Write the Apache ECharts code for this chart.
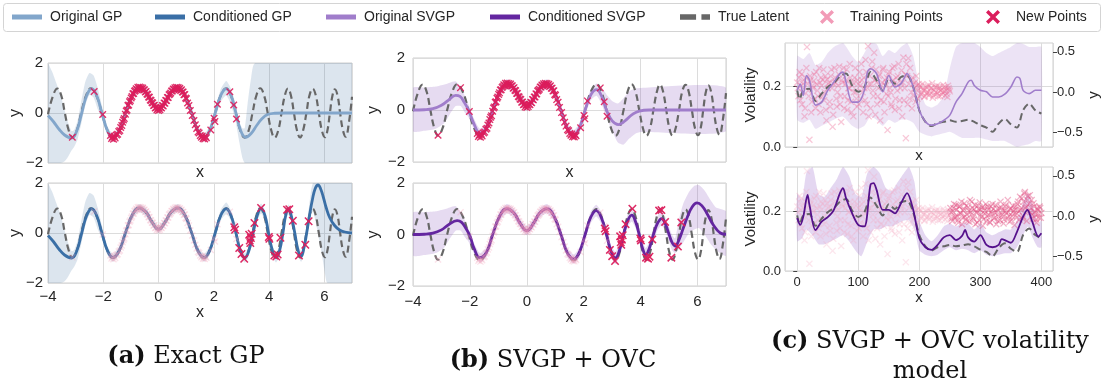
<!DOCTYPE html>
<html><head><meta charset="utf-8">
<script src="https://cdn.jsdelivr.net/npm/echarts/dist/echarts.min.js"></script>
<style>html,body{margin:0;padding:0;background:#fff}#c{width:1104px;height:383px}</style>
</head><body><div id="c"></div>
<script>
// ---------------- DATA ----------------
const xTicksAB = [-4, -2, 0, 2, 4, 6];
const yTicksAB = [-2, 0, 2];
const xTicksC = [0, 100, 200, 300, 400];
const volTicks = [0, 0.2];
const retTicks = [-0.5, 0, 0.5];

const latent = [[-4.0,-0.05],[-3.83,0.65],[-3.66,0.98],[-3.52,0.7],[-3.39,0.0],[-3.25,-0.7],[-3.12,-0.98],[-2.96,-0.7],[-2.8,0.0],[-2.62,0.7],[-2.45,0.99],[-2.25,0.7],[-2.05,0.0],[-1.85,-0.7],[-1.65,-1.0],[-1.42,-0.7],[-1.2,0.0],[-0.95,0.72],[-0.7,1.0],[-0.45,0.83],[-0.25,0.46],[0,0.15],[0.25,0.46],[0.45,0.83],[0.7,1.0],[0.95,0.72],[1.2,0.0],[1.42,-0.7],[1.65,-1.0],[1.85,-0.7],[2.05,0.0],[2.25,0.7],[2.45,0.99],[2.62,0.7],[2.8,0.0],[2.96,-0.7],[3.12,-0.99],[3.26,-0.7],[3.4,0.0],[3.54,0.7],[3.68,0.99],[3.82,0.7],[3.95,0.0],[4.08,-0.7],[4.2,-0.99],[4.33,-0.7],[4.45,0.0],[4.57,0.7],[4.68,0.98],[4.79,0.7],[4.9,0.0],[5.01,-0.7],[5.12,-0.98],[5.23,-0.7],[5.35,0.0],[5.46,0.7],[5.58,0.97],[5.69,0.7],[5.8,0.0],[5.91,-0.7],[6.02,-0.97],[6.11,-0.7],[6.2,0.0],[6.29,0.68],[6.38,0.95],[6.48,0.68],[6.57,0.0],[6.67,-0.68],[6.77,-0.95],[6.88,-0.45],[7.0,0.65]];

const origGPMean = [[-4.0,-0.1],[-3.8,-0.35],[-3.6,-0.65],[-3.4,-0.88],[-3.15,-1.0],[-2.96,-0.72],[-2.78,0.0],[-2.6,0.7],[-2.42,0.97],[-2.24,0.7],[-2.05,0.0],[-1.85,-0.7],[-1.65,-0.98],[-1.42,-0.7],[-1.2,0.0],[-0.95,0.72],[-0.7,1.0],[-0.45,0.83],[-0.25,0.46],[0,0.15],[0.25,0.46],[0.45,0.83],[0.7,1.0],[0.95,0.72],[1.2,0.0],[1.42,-0.7],[1.65,-0.98],[1.85,-0.7],[2.05,0.0],[2.25,0.7],[2.45,0.97],[2.63,0.68],[2.8,0.0],[2.97,-0.7],[3.15,-0.97],[3.35,-0.82],[3.55,-0.5],[3.75,-0.22],[3.95,-0.06],[4.2,-0.01],[4.6,0.0],[5.5,0.0],[7.0,0.0]];

const condGPMean = [[-4.0,-0.1],[-3.8,-0.35],[-3.6,-0.65],[-3.4,-0.88],[-3.15,-1.0],[-2.96,-0.72],[-2.78,0.0],[-2.6,0.7],[-2.42,0.97],[-2.24,0.7],[-2.05,0.0],[-1.85,-0.7],[-1.65,-0.98],[-1.42,-0.7],[-1.2,0.0],[-0.95,0.72],[-0.7,1.0],[-0.45,0.83],[-0.25,0.46],[0,0.15],[0.25,0.46],[0.45,0.83],[0.7,1.0],[0.95,0.72],[1.2,0.0],[1.42,-0.7],[1.65,-0.98],[1.85,-0.7],[2.05,0.0],[2.25,0.7],[2.45,0.97],[2.62,0.7],[2.8,0.0],[2.96,-0.7],[3.12,-1.0],[3.27,-0.7],[3.42,0.0],[3.57,0.7],[3.71,0.98],[3.85,0.7],[3.98,0.0],[4.12,-0.7],[4.25,-0.98],[4.38,-0.7],[4.5,0.0],[4.6,0.7],[4.7,0.94],[4.8,0.7],[4.93,0.0],[5.05,-0.7],[5.16,-0.93],[5.26,-0.6],[5.36,0.0],[5.47,0.75],[5.57,1.35],[5.67,1.78],[5.77,1.92],[5.87,1.75],[5.97,1.4],[6.07,1.0],[6.2,0.6],[6.37,0.3],[6.55,0.12],[6.74,0.04],[7.0,0.0]];

const origSVGPMean = [[-4.0,0.0],[-3.6,0.01],[-3.3,0.05],[-3.0,0.18],[-2.75,0.38],[-2.5,0.56],[-2.35,0.52],[-2.2,0.3],[-2.05,0.0],[-1.85,-0.55],[-1.65,-0.88],[-1.42,-0.68],[-1.2,0.0],[-0.95,0.72],[-0.7,1.0],[-0.45,0.83],[-0.25,0.46],[0,0.15],[0.25,0.46],[0.45,0.83],[0.7,1.0],[0.95,0.72],[1.2,0.0],[1.42,-0.7],[1.65,-0.95],[1.85,-0.68],[2.05,0.0],[2.25,0.58],[2.45,0.78],[2.62,0.55],[2.8,0.0],[3.0,-0.42],[3.22,-0.56],[3.45,-0.42],[3.7,-0.18],[3.95,-0.04],[4.3,0.0],[7.0,0.0]];

const condSVGPMean = [[-4.0,0.0],[-3.6,0.01],[-3.3,0.05],[-3.0,0.18],[-2.75,0.38],[-2.45,0.54],[-2.3,0.48],[-2.15,0.25],[-2.0,-0.05],[-1.85,-0.55],[-1.65,-0.9],[-1.42,-0.7],[-1.2,0.0],[-0.95,0.72],[-0.7,1.0],[-0.45,0.83],[-0.25,0.46],[0,0.15],[0.25,0.46],[0.45,0.83],[0.7,1.0],[0.95,0.72],[1.2,0.0],[1.42,-0.7],[1.65,-0.95],[1.85,-0.68],[2.05,0.0],[2.25,0.68],[2.44,0.93],[2.62,0.65],[2.8,0.0],[2.96,-0.65],[3.11,-0.91],[3.26,-0.6],[3.4,0.0],[3.55,0.55],[3.69,0.75],[3.82,0.5],[3.95,0.0],[4.07,-0.55],[4.18,-0.78],[4.3,-0.55],[4.45,0.0],[4.6,0.45],[4.74,0.62],[4.87,0.4],[5.0,0.0],[5.1,-0.3],[5.21,-0.45],[5.35,-0.2],[5.5,0.25],[5.65,0.7],[5.8,1.05],[5.98,1.23],[6.15,1.12],[6.35,0.78],[6.55,0.38],[6.8,0.06],[7.0,0.01]];

// bands: [x, lower, upper]
const bandGPLeft = [[-4.0,-2,2],[-3.85,-2,1.65],[-3.7,-2,1.2],[-3.55,-2,0.75],[-3.42,-1.95,0.2],[-3.3,-1.8,-0.3],[-3.15,-1.5,-0.72],[-3.05,-1.35,-0.68],[-2.93,-1.05,-0.3],[-2.8,-0.45,0.45],[-2.65,0.3,1.25],[-2.5,0.72,1.6],[-2.35,0.62,1.5],[-2.2,0.15,1.0],[-2.05,-0.22,0.3]];
const bandGPMid = [[-1.85,-0.87,-0.53],[-1.65,-1.15,-0.83],[-1.42,-0.86,-0.54],[-1.2,-0.16,0.16],[-0.95,0.56,0.88],[-0.7,0.84,1.16],[-0.45,0.66,0.98],[-0.25,0.3,0.6],[0,0.0,0.3],[0.25,0.3,0.6],[0.45,0.66,0.98],[0.7,0.84,1.16],[0.95,0.56,0.88],[1.2,-0.16,0.16],[1.42,-0.86,-0.54],[1.65,-1.15,-0.83],[1.85,-0.87,-0.53],[2.05,-0.2,0.2]];
const bandOrigGPRight = [[2.25,0.45,0.95],[2.45,0.7,1.28],[2.63,0.3,0.95],[2.8,-0.4,0.3],[2.92,-1.15,-0.35],[3.04,-1.82,-0.62],[3.12,-2,-0.6],[3.22,-2,0.35],[3.35,-2,1.4],[3.5,-2,2],[7.0,-2,2]];
const bandCondGPRight = [[2.25,0.5,0.92],[2.45,0.75,1.22],[2.62,0.5,0.9],[2.8,-0.2,0.2],[2.96,-0.9,-0.5],[3.12,-1.18,-0.82],[3.27,-0.9,-0.5],[3.42,-0.2,0.2],[3.57,0.5,0.9],[3.71,0.78,1.18],[3.85,0.5,0.9],[3.98,-0.2,0.2],[4.12,-0.9,-0.5],[4.25,-1.18,-0.8],[4.38,-0.9,-0.5],[4.5,-0.2,0.2],[4.6,0.5,0.9],[4.7,0.74,1.14],[4.8,0.5,0.9],[4.93,-0.2,0.2],[5.05,-0.9,-0.5],[5.16,-1.15,-0.72],[5.26,-0.85,-0.3],[5.36,-0.25,0.35],[5.45,0.35,1.1],[5.52,0.75,1.7],[5.59,0.87,2],[5.75,0.1,2],[5.9,-0.8,2],[6.07,-1.93,2],[6.12,-2,2],[7.0,-2,2]];

const bandSVLeft = [[-4.0,-0.82,0.85],[-3.6,-0.8,0.86],[-3.2,-0.72,0.9],[-2.9,-0.5,0.98],[-2.7,-0.15,1.05],[-2.5,0.15,1.1],[-2.32,0.15,0.88],[-2.18,-0.1,0.55],[-2.05,-0.28,0.22]];
const bandSVMid = [[-1.85,-0.75,-0.35],[-1.65,-1.08,-0.72],[-1.42,-0.88,-0.5],[-1.2,-0.18,0.18],[-0.95,0.54,0.9],[-0.7,0.82,1.18],[-0.45,0.64,1.0],[-0.25,0.27,0.63],[0,-0.03,0.33],[0.25,0.27,0.63],[0.45,0.64,1.0],[0.7,0.82,1.18],[0.95,0.54,0.9],[1.2,-0.18,0.18],[1.42,-0.88,-0.5],[1.65,-1.13,-0.77],[1.85,-0.88,-0.5],[2.05,-0.2,0.2]];
const bandOrigSVRight = [[2.25,0.38,0.8],[2.45,0.55,1.02],[2.62,0.25,0.88],[2.8,-0.3,0.6],[3.0,-0.8,0.35],[3.2,-1.25,0.25],[3.4,-1.33,0.45],[3.6,-1.1,0.72],[3.8,-0.92,0.83],[4.0,-0.85,0.85],[7.0,-0.82,0.86]];
const bandCondSVRight = [[2.25,0.45,0.9],[2.44,0.7,1.16],[2.62,0.42,0.88],[2.8,-0.22,0.22],[2.96,-0.88,-0.42],[3.11,-1.15,-0.67],[3.26,-0.84,-0.36],[3.4,-0.24,0.24],[3.55,0.3,0.8],[3.69,0.5,1.0],[3.82,0.26,0.74],[3.95,-0.25,0.25],[4.07,-0.8,-0.3],[4.18,-1.04,-0.52],[4.3,-0.8,-0.3],[4.45,-0.26,0.26],[4.6,0.18,0.72],[4.74,0.35,0.9],[4.87,0.13,0.67],[5.0,-0.28,0.28],[5.1,-0.6,0.0],[5.21,-0.72,-0.15],[5.35,-0.55,0.6],[5.5,-0.3,1.2],[5.7,0.05,1.65],[5.9,0.2,1.9],[6.05,0.25,1.92],[6.25,0.0,1.7],[6.45,-0.35,1.35],[6.65,-0.6,1.05],[7.0,-0.82,0.9]];

const trainPts = [[-3.12,-0.97],[-2.33,0.86],[-2.02,-0.06],[-1.74,-0.9],[-1.7,-1.02],[-1.67,-0.95],[-1.63,-1.05],[-1.6,-0.93],[-1.57,-1.0],[-1.52,-0.88],[-1.48,-0.85],[-1.44,-0.74],[-1.4,-0.7],[-1.37,-0.58],[-1.33,-0.5],[-1.3,-0.37],[-1.27,-0.28],[-1.24,-0.22],[-1.2,-0.05],[-1.17,0.08],[-1.14,0.12],[-1.11,0.3],[-1.08,0.32],[-1.05,0.45],[-1.02,0.5],[-0.99,0.6],[-0.96,0.66],[-0.93,0.77],[-0.9,0.78],[-0.87,0.87],[-0.84,0.9],[-0.81,0.97],[-0.78,0.93],[-0.75,1.03],[-0.72,0.97],[-0.69,1.04],[-0.66,0.96],[-0.63,1.02],[-0.6,0.95],[-0.57,1.0],[-0.54,0.92],[-0.51,0.93],[-0.48,0.84],[-0.45,0.86],[-0.42,0.76],[-0.39,0.74],[-0.36,0.64],[-0.33,0.63],[-0.3,0.52],[-0.27,0.5],[-0.24,0.42],[-0.21,0.4],[-0.18,0.3],[-0.15,0.31],[-0.12,0.2],[-0.09,0.22],[-0.06,0.12],[-0.03,0.19],[0.0,0.1],[0.02,0.2],[0.05,0.13],[0.08,0.22],[0.11,0.2],[0.14,0.3],[0.17,0.28],[0.2,0.4],[0.23,0.39],[0.26,0.5],[0.29,0.5],[0.32,0.62],[0.35,0.62],[0.38,0.73],[0.41,0.76],[0.44,0.8],[0.47,0.88],[0.5,0.88],[0.53,0.96],[0.56,0.93],[0.59,1.01],[0.62,0.95],[0.65,1.03],[0.68,0.97],[0.71,1.02],[0.74,0.95],[0.77,0.99],[0.8,0.9],[0.83,0.93],[0.86,0.84],[0.89,0.84],[0.92,0.73],[0.95,0.74],[0.98,0.6],[1.01,0.57],[1.05,0.4],[1.1,0.3],[1.15,0.1],[1.22,-0.1],[1.28,-0.3],[1.33,-0.47],[1.38,-0.62],[1.43,-0.76],[1.47,-0.8],[1.51,-0.9],[1.55,-0.97],[1.58,-0.92],[1.61,-1.03],[1.64,-0.97],[1.67,-1.04],[1.7,-0.94],[1.73,-0.99],[1.89,-0.68],[2.01,-0.21],[2.04,-0.34],[2.13,0.35],[2.58,0.85],[2.72,0.32],[2.82,-0.24]];

const newPts = [[2.74,0.23],[2.77,0.13],[2.92,-0.6],[3.0,-0.84],[3.1,-1.03],[3.28,-0.07],[3.34,-0.2],[3.32,-0.4],[3.37,-0.03],[3.3,-0.3],[3.47,0.4],[3.71,1.0],[3.99,-0.16],[4.01,-0.23],[4.19,-0.9],[4.26,-0.94],[4.31,-0.86],[4.41,-0.19],[4.65,0.93],[4.73,0.95],[4.86,0.49],[5.08,-0.9],[5.31,-0.47],[5.43,0.47]];

// panel (c): volatility curves [t, volatility]
const cLatent = [[0,0.187],[4,0.158],[10,0.187],[20,0.192],[30,0.152],[40,0.176],[50,0.198],[60,0.211],[70,0.233],[80,0.242],[90,0.203],[100,0.182],[110,0.198],[120,0.247],[130,0.22],[140,0.187],[150,0.225],[160,0.209],[170,0.231],[180,0.236],[190,0.198],[200,0.121],[210,0.083],[220,0.069],[230,0.08],[240,0.083],[250,0.088],[260,0.083],[270,0.086],[280,0.09],[290,0.083],[300,0.072],[310,0.064],[320,0.05],[330,0.077],[340,0.093],[350,0.075],[360,0.064],[370,0.121],[380,0.143],[390,0.121],[400,0.11]];
const cOrigMean = [[0,0.187],[5,0.208],[10,0.17],[15,0.236],[20,0.22],[30,0.138],[40,0.148],[50,0.187],[60,0.214],[70,0.242],[75,0.247],[80,0.214],[90,0.148],[100,0.148],[110,0.187],[115,0.247],[120,0.258],[130,0.242],[140,0.182],[150,0.236],[160,0.198],[170,0.209],[180,0.242],[190,0.198],[200,0.121],[210,0.083],[220,0.072],[230,0.077],[240,0.088],[250,0.105],[260,0.148],[270,0.176],[280,0.214],[285,0.22],[290,0.203],[300,0.187],[310,0.182],[320,0.165],[330,0.165],[340,0.174],[350,0.198],[360,0.231],[365,0.225],[370,0.187],[380,0.176],[390,0.187],[400,0.187]];
const cCondMean = [[0,0.178],[5,0.155],[10,0.183],[17,0.256],[20,0.223],[30,0.138],[40,0.166],[50,0.181],[60,0.206],[70,0.262],[75,0.279],[80,0.245],[90,0.194],[100,0.155],[110,0.15],[120,0.29],[125,0.296],[130,0.273],[140,0.206],[150,0.206],[160,0.194],[170,0.228],[180,0.262],[190,0.206],[200,0.11],[210,0.08],[220,0.071],[230,0.088],[240,0.113],[250,0.121],[260,0.104],[270,0.118],[275,0.138],[280,0.113],[290,0.099],[300,0.121],[310,0.088],[320,0.08],[330,0.088],[335,0.107],[340,0.104],[350,0.095],[360,0.132],[370,0.183],[377,0.206],[385,0.166],[395,0.116],[400,0.127]];
const cBandOrig = [[0,0.09,0.3],[10,0.08,0.29],[20,0.09,0.31],[30,0.06,0.27],[40,0.07,0.28],[50,0.08,0.31],[60,0.09,0.33],[75,0.1,0.343],[90,0.07,0.3],[100,0.06,0.28],[110,0.07,0.31],[120,0.1,0.343],[130,0.09,0.34],[140,0.07,0.3],[150,0.09,0.32],[160,0.08,0.31],[170,0.09,0.33],[180,0.09,0.343],[190,0.08,0.3],[200,0.05,0.2],[210,0.04,0.14],[220,0.035,0.13],[230,0.04,0.14],[240,0.045,0.17],[250,0.05,0.26],[260,0.04,0.33],[270,0.03,0.343],[290,0.03,0.343],[300,0.03,0.33],[310,0.025,0.31],[320,0.02,0.3],[330,0.02,0.31],[340,0.02,0.32],[350,0.01,0.33],[360,0.0,0.343],[370,0.005,0.34],[380,0.01,0.33],[390,0.02,0.33],[400,0.02,0.33]];
const cBandCond = [[0,0.1,0.26],[8,0.11,0.24],[15,0.14,0.33],[25,0.12,0.35],[35,0.09,0.26],[45,0.09,0.25],[55,0.1,0.28],[65,0.11,0.31],[75,0.12,0.35],[85,0.1,0.32],[95,0.07,0.26],[105,0.05,0.25],[115,0.1,0.33],[125,0.14,0.35],[135,0.14,0.33],[145,0.15,0.28],[155,0.15,0.27],[165,0.16,0.3],[175,0.17,0.33],[183,0.17,0.35],[192,0.14,0.3],[200,0.07,0.17],[210,0.055,0.12],[220,0.05,0.1],[230,0.055,0.12],[240,0.07,0.15],[250,0.08,0.16],[260,0.07,0.15],[270,0.075,0.16],[280,0.07,0.16],[290,0.06,0.14],[300,0.07,0.16],[310,0.055,0.13],[320,0.05,0.12],[330,0.055,0.13],[340,0.06,0.14],[350,0.06,0.14],[360,0.08,0.17],[370,0.12,0.23],[378,0.15,0.26],[386,0.11,0.22],[394,0.08,0.16],[400,0.08,0.17]];

// panel (c): returns [t, y]
const cTrainPts = [[0,0.12],[1,0.05],[2,-0.05],[3,0.18],[4,0.25],[5,-0.1],[6,0.08],[7,0.22],[8,-0.15],[9,0.0],[10,0.1],[11,0.15],[12,-0.3],[13,-0.2],[14,0.18],[15,0.3],[16,0.56],[17,0.1],[18,0.02],[19,-0.05],[20,-0.59],[21,0.2],[22,0.15],[23,-0.25],[24,-0.12],[25,0.08],[26,0.05],[27,0.14],[28,0.22],[29,-0.08],[30,-0.2],[31,0.25],[32,0.1],[33,0.02],[34,-0.05],[35,-0.15],[36,0.3],[37,0.12],[38,-0.25],[39,0.18],[40,0.08],[41,-0.05],[42,0.15],[43,0.28],[44,-0.1],[45,0.0],[46,0.2],[47,-0.22],[48,-0.35],[49,0.16],[50,0.05],[51,0.1],[52,0.12],[53,-0.12],[54,-0.18],[55,0.2],[56,0.28],[57,0.05],[58,-0.43],[59,-0.28],[60,0.1],[61,0.3],[62,0.18],[63,0.12],[64,-0.08],[65,-0.18],[66,0.0],[67,0.08],[68,0.22],[69,0.32],[70,-0.15],[71,-0.05],[72,-0.37],[73,0.15],[74,0.12],[75,0.22],[76,0.3],[77,-0.2],[78,-0.05],[79,0.1],[80,0.15],[81,0.28],[82,-0.22],[83,-0.1],[84,0.05],[85,0.05],[86,0.35],[87,0.18],[88,-0.12],[89,-0.25],[90,0.08],[91,0.12],[92,-0.3],[93,0.0],[94,0.18],[95,0.3],[96,0.0],[97,-0.08],[98,-0.18],[99,0.15],[100,0.1],[101,-0.15],[102,0.25],[103,0.08],[104,-0.08],[105,0.35],[106,0.15],[107,0.0],[108,-0.25],[109,0.18],[110,0.05],[111,-0.1],[112,0.4],[113,0.25],[114,-0.15],[115,0.05],[116,0.57],[117,-0.3],[118,0.1],[119,0.2],[120,-0.2],[121,0.1],[122,0.3],[123,0.38],[124,0.02],[125,-0.05],[126,0.49],[127,0.15],[128,-0.28],[129,0.28],[130,0.12],[131,-0.15],[132,-0.05],[133,0.05],[134,0.2],[135,0.22],[136,-0.35],[137,-0.1],[138,0.08],[139,0.12],[140,0.28],[141,0.3],[142,-0.12],[143,-0.25],[144,0.15],[145,0.08],[146,-0.02],[147,0.18],[148,-0.47],[149,-0.05],[150,0.22],[151,0.25],[152,0.05],[153,0.0],[154,-0.15],[155,-0.18],[156,0.3],[157,0.15],[158,0.1],[159,0.32],[160,-0.22],[161,-0.08],[162,0.18],[163,0.1],[164,0.02],[165,0.2],[166,0.35],[167,-0.2],[168,-0.1],[169,0.05],[170,0.12],[171,0.27],[172,-0.3],[173,0.12],[174,0.43],[175,-0.1],[176,0.05],[177,0.22],[178,-0.57],[179,0.35],[180,0.2],[181,-0.15],[182,0.42],[183,0.1],[184,-0.08],[185,0.3],[186,0.15],[187,0.0],[188,-0.2],[189,0.18],[190,0.1],[191,-0.05],[192,0.05],[193,0.12],[194,-0.12],[195,0.2],[196,0.08],[197,-0.08],[198,0.02],[199,0.1],[200,-0.05],[201,0.08],[202,0.06],[203,-0.03],[204,0.0],[205,0.1],[206,0.04],[207,0.02],[208,-0.06],[209,-0.05],[210,0.03],[211,0.07],[212,-0.02],[213,0.0],[214,0.07],[215,0.09],[216,-0.04],[217,-0.02],[218,0.01],[219,0.05],[220,0.05],[221,0.11],[222,-0.07],[223,-0.04],[224,0.02],[225,0.06],[226,-0.03],[227,0.0],[228,0.06],[229,0.08],[230,-0.01],[231,-0.05],[232,0.04],[233,0.07],[234,-0.05],[235,0.02],[236,0.03],[237,-0.03],[238,0.0],[239,0.09],[240,0.06],[241,0.01],[242,-0.04],[243,0.06],[244,0.02],[245,-0.02],[246,-0.06],[247,0.08],[248,0.05],[249,0.03],[250,0.01]];
const cNewPts = [[251,0.1],[252,0.05],[253,-0.03],[254,-0.06],[255,0.06],[256,0.1],[257,0.15],[258,-0.02],[259,0.0],[260,0.14],[261,0.08],[262,0.0],[263,-0.05],[264,-0.08],[265,0.12],[266,0.12],[267,0.04],[268,0.03],[269,0.18],[270,-0.1],[271,-0.02],[272,0.07],[273,0.09],[274,0.16],[275,0.0],[276,-0.04],[277,0.13],[278,0.02],[279,-0.06],[280,0.11],[281,0.07],[282,-0.07],[283,0.2],[284,0.05],[285,0.02],[286,0.18],[287,0.1],[288,-0.02],[289,-0.04],[290,0.09],[291,0.14],[292,-0.1],[293,0.05],[294,0.04],[295,-0.08],[296,0.13],[297,0.09],[298,-0.05],[299,0.17],[300,0.08],[301,0.02],[302,0.0],[303,0.11],[304,-0.12],[305,-0.04],[306,0.1],[307,0.07],[308,0.03],[309,0.15],[310,-0.06],[311,0.0],[312,0.12],[313,0.08],[314,0.01],[315,-0.07],[316,-0.08],[317,0.12],[318,0.06],[319,0.03],[320,0.15],[321,0.09],[322,-0.03],[323,-0.02],[324,0.04],[325,0.14],[326,-0.1],[327,0.05],[328,0.09],[329,-0.06],[330,0.0],[331,0.1],[332,-0.05],[333,0.18],[334,0.11],[335,0.01],[336,0.02],[337,0.07],[338,-0.09],[339,-0.04],[340,0.07],[341,0.12],[342,0.14],[343,0.04],[344,-0.02],[345,0.2],[346,0.05],[347,0.0],[348,-0.07],[349,0.09],[350,0.1],[351,-0.05],[352,0.0],[353,0.13],[354,0.06],[355,0.03],[356,-0.11],[357,0.08],[358,0.12],[359,-0.02],[360,0.03],[361,0.15],[362,0.18],[363,0.06],[364,-0.04],[365,0.24],[366,0.08],[367,0.1],[368,0.22],[369,-0.03],[370,0.0],[371,0.18],[372,0.28],[373,0.3],[374,0.1],[375,0.12],[376,-0.06],[377,0.2],[378,0.25],[379,0.06],[380,0.15],[381,0.26],[382,0.05],[383,0.1],[384,0.2],[385,0.02],[386,-0.03],[387,0.16],[388,0.12],[389,0.05],[390,0.02],[391,-0.04],[392,-0.08],[393,0.1],[394,0.08],[395,0.03],[396,-0.02],[397,0.12],[398,0.1],[399,-0.02],[400,0.04]];

// ---------------- STYLE ----------------
const FONT = "'Liberation Sans', Arial, sans-serif";
const TXT = '#262626';
const GRIDC = '#dcdcdc';
const C_ORIG_GP = '#82a6cb', C_COND_GP = '#3a6fa6';
const C_ORIG_SV = '#a07dcb', C_COND_SV = '#6426a0', C_COND_SV_C = '#55118c';
const C_LAT = '#676767', C_NEW = '#db1d5c', C_TRAIN = '#f29bb7';
const BAND_GP = 'rgba(70,115,165,0.19)', BAND_SV = 'rgba(140,90,190,0.22)';
const XPATH = 'path://M0,1.8L1.8,0L7,5.2L12.2,0L14,1.8L8.8,7L14,12.2L12.2,14L7,8.8L1.8,14L0,12.2L5.2,7Z';
const XPATH_L = 'path://M0,2.4L2.4,0L7,4.6L11.6,0L14,2.4L9.4,7L14,11.6L11.6,14L7,9.4L2.4,14L0,11.6L4.6,7Z';
const minus = s => String(s).replace('-', '\u2212');

function bandS(name, rows, xi, yi, fill) {
  return {type:'custom', name, xAxisIndex:xi, yAxisIndex:yi, data: rows, z:1, silent:true, clip:true,
    encode:{x:0, y:[1,2]},
    renderItem(params, api) {
      if (params.dataIndexInside !== 0) return null;
      const pts = [];
      for (const r of rows) pts.push(api.coord([r[0], r[2]]));
      for (let i = rows.length - 1; i >= 0; i--) pts.push(api.coord([rows[i][0], rows[i][1]]));
      const cs = params.coordSys;
      return {type:'polygon', shape:{points: pts, smooth: 0.2, smoothConstraint: [[cs.x, cs.y],[cs.x+cs.width, cs.y+cs.height]]}, style:{fill}};
    }};
}
function lineS(name, data, xi, yi, color, width, dashed, z) {
  return {type:'line', name, xAxisIndex:xi, yAxisIndex:yi, data, smooth: xi >= 4 ? 0.3 : 0.45, showSymbol:false, symbol:'none', silent:true, z: z || 3,
    lineStyle:{color, width, type: dashed ? [7,4] : 'solid', cap:'butt'}, itemStyle:{color}};
}
function scatS(name, data, xi, yi, color, size, opacity, z) {
  return {type:'scatter', name, xAxisIndex:xi, yAxisIndex:yi, data, symbol: XPATH, symbolSize: size, silent:true, z: z || 4,
    itemStyle:{color, opacity}};
}

const grids = [
  {left:48, top:63, width:304, height:100},
  {left:48, top:183, width:304, height:100},
  {left:413, top:58, width:313, height:104},
  {left:413, top:183, width:313, height:103},
  {left:785, top:43, width:268, height:104},
  {left:785, top:167, width:268, height:104}
].map(g => Object.assign({show:true, borderColor:'#cfcfcf', borderWidth:1, backgroundColor:'#fff'}, g));

const lbl = (size) => ({color:TXT, fontFamily:FONT, fontSize:size});

const xNameGap = [2, 21, 3, 24];
const xAxes = [];
for (let i = 0; i < 4; i++) {
  const bottom = i % 2 === 1;
  xAxes.push({gridIndex:i, type:'value', min:-4, max:7, interval:2,
    axisLine:{show:false}, axisTick:{show:false},
    splitLine:{show:true, lineStyle:{color:GRIDC, width:1}},
    axisLabel:{show:bottom, margin: i===3 ? 8 : 6, ...lbl(15), formatter: v => xTicksAB.includes(v) ? minus(v) : ''},
    name:'x', nameLocation:'middle', nameGap: xNameGap[i], nameTextStyle: lbl(16)});
}
for (let i = 4; i < 6; i++) {
  const bottom = i === 5;
  xAxes.push({gridIndex:i, type:'value', min:-20, max:419, splitNumber:4,
    axisLine:{show:false}, axisTick:{show:false},
    splitLine:{show:true, lineStyle:{color:GRIDC, width:1}},
    axisLabel:{show:bottom, margin:5, ...lbl(13), customValues: xTicksC, formatter: v => xTicksC.includes(v) ? String(v) : ''},
    name:'x', nameLocation:'middle', nameGap: bottom ? 19 : 1, nameTextStyle: lbl(15)});
}
const yAxes = [];
for (let i = 0; i < 4; i++) {
  yAxes.push({gridIndex:i, type:'value', min:-2, max:2, interval:2,
    axisLine:{show:false}, axisTick:{show:false},
    splitLine:{show:true, lineStyle:{color:GRIDC, width:1}},
    axisLabel:{margin: i < 2 ? 5 : 8, ...lbl(15), formatter: v => yTicksAB.includes(v) ? minus(v) : ''},
    name:'y', nameLocation:'middle', nameRotate:90, nameMoveOverlap:false, nameGap: i < 2 ? 24 : 31, nameTextStyle: lbl(16)});
}
const volMax = [0.343, 0.35];
for (let k = 0; k < 2; k++) {
  yAxes.push({gridIndex:4+k, type:'value', min:0, max:volMax[k], splitNumber:2,
    axisLine:{show:false}, axisTick:{show:true, length:4, lineStyle:{color:'#444'}, customValues: volTicks},
    splitLine:{show:true, lineStyle:{color:GRIDC, width:1}},
    axisLabel:{margin:4, ...lbl(13), customValues: volTicks, formatter: v => volTicks.some(t => Math.abs(t - v) < 1e-9) ? v.toFixed(1) : ''},
    name:'Volatility', nameLocation:'middle', nameRotate:90, nameGap:27, nameTextStyle: lbl(15)});
}
for (let k = 0; k < 2; k++) {
  yAxes.push({gridIndex:4+k, type:'value', position:'right', min:-0.68, max:0.61, splitNumber:3,
    axisLine:{show:false}, axisTick:{show:true, length:4, lineStyle:{color:'#444'}, customValues: retTicks},
    splitLine:{show:false},
    axisLabel:{margin:4, ...lbl(13), customValues: retTicks, formatter: v => retTicks.some(t => Math.abs(t - v) < 1e-9) ? minus(v.toFixed(1)) : ''},
    name:'y', nameLocation:'middle', nameRotate:90, nameGap:33, nameTextStyle: lbl(15)});
}

const series = [
  // (a) top
  bandS('Original GP', bandGPLeft.concat(bandGPMid, bandOrigGPRight), 0, 0, BAND_GP),
  lineS('True Latent', latent, 0, 0, C_LAT, 2.2, true, 3),
  lineS('Original GP', origGPMean, 0, 0, C_ORIG_GP, 2.8, false, 3),
  scatS('Training Points', trainPts, 0, 0, C_NEW, 7.5, 0.9),
  // (a) bottom
  bandS('Conditioned GP', bandGPLeft.concat(bandGPMid, bandCondGPRight), 1, 1, BAND_GP),
  lineS('True Latent', latent, 1, 1, C_LAT, 2.2, true, 3),
  lineS('Conditioned GP', condGPMean, 1, 1, C_COND_GP, 2.8, false, 3),
  scatS('Training Points', trainPts, 1, 1, C_TRAIN, 7, 0.3),
  scatS('New Points', newPts, 1, 1, C_NEW, 8.5, 0.95, 5),
  // (b) top
  bandS('Original SVGP', bandSVLeft.concat(bandSVMid, bandOrigSVRight), 2, 2, BAND_SV),
  lineS('True Latent', latent, 2, 2, C_LAT, 2.2, true, 3),
  lineS('Original SVGP', origSVGPMean, 2, 2, C_ORIG_SV, 2.8, false, 3),
  scatS('Training Points', trainPts, 2, 2, C_NEW, 7.5, 0.9),
  // (b) bottom
  bandS('Conditioned SVGP', bandSVLeft.concat(bandSVMid, bandCondSVRight), 3, 3, BAND_SV),
  lineS('True Latent', latent, 3, 3, C_LAT, 2.2, true, 3),
  lineS('Conditioned SVGP', condSVGPMean, 3, 3, C_COND_SV, 2.8, false, 3),
  scatS('Training Points', trainPts, 3, 3, C_TRAIN, 7, 0.3),
  scatS('New Points', newPts, 3, 3, C_NEW, 8.5, 0.95, 5),
  // (c) top
  bandS('Original SVGP', cBandOrig, 4, 4, 'rgba(150,100,200,0.18)'),
  scatS('Training Points', cTrainPts, 4, 6, '#ec6f98', 7, 0.38, 2),
  lineS('True Latent', cLatent, 4, 4, C_LAT, 2, true, 3),
  lineS('Original SVGP', cOrigMean, 4, 4, C_ORIG_SV, 1.6, false, 3),
  // (c) bottom
  bandS('Conditioned SVGP', cBandCond, 5, 5, 'rgba(150,100,200,0.26)'),
  scatS('Training Points', cTrainPts, 5, 7, '#f4a6bf', 7, 0.28, 2),
  scatS('New Points', cNewPts, 5, 7, '#e0487c', 7, 0.42, 2),
  lineS('True Latent', cLatent, 5, 5, C_LAT, 2, true, 3),
  lineS('Conditioned SVGP', cCondMean, 5, 5, C_COND_SV_C, 1.8, false, 3)
];

const LINE_ICON = 'path://M0,0L30,0L30,5L0,5Z';
const DASH_ICON = 'path://M0,0L15,0L15,5L0,5Z M20,0L28,0L28,5L20,5Z';
const legendDefs = [
  {name:'Original GP', left:12, icon:LINE_ICON, color:C_ORIG_GP},
  {name:'Conditioned GP', left:155, icon:LINE_ICON, color:C_COND_GP},
  {name:'Original SVGP', left:326, icon:LINE_ICON, color:C_ORIG_SV},
  {name:'Conditioned SVGP', left:490, icon:LINE_ICON, color:C_COND_SV},
  {name:'True Latent', left:680, icon:DASH_ICON, color:C_LAT},
  {name:'Training Points', left:820, icon:XPATH_L, color:C_TRAIN},
  {name:'New Points', left:986, icon:XPATH_L, color:C_NEW}
];
const legends = legendDefs.map(d => ({
  left: d.left, top: 10, padding: 0, itemWidth: 30, itemHeight: 14, itemGap: 0, selectedMode: false,
  textStyle: {color: TXT, fontFamily: FONT, fontSize: 14, padding: [0,0,0,3]},
  data: [{name: d.name, icon: d.icon, itemStyle: {color: d.color, borderWidth: 0, opacity: 1}, lineStyle:{opacity:0}}]
}));

const SERIF = "'DejaVu Serif', 'Liberation Serif', serif";
const capRich = {b:{fontFamily:SERIF, fontWeight:'bold', fontSize:24, fill:'#111'}, n:{fontFamily:SERIF, fontSize:24, fill:'#111'}};
const graphic = [
  {type:'rect', shape:{x:3.5, y:3.5, width:1097, height:28, r:3}, style:{fill:'none', stroke:'#d4d4d4', lineWidth:1}, z:-1},
  {type:'text', x:186, y:357, style:{text:'{b|(a)}{n| Exact GP}', rich:capRich, align:'center', verticalAlign:'middle'}},
  {type:'text', x:553, y:361, style:{text:'{b|(b)}{n| SVGP + OVC}', rich:capRich, align:'center', verticalAlign:'middle'}},
  {type:'text', x:930, y:342, style:{text:'{b|(c)}{n| SVGP + OVC volatility}', rich:capRich, align:'center', verticalAlign:'middle'}},
  {type:'text', x:930, y:372, style:{text:'{n|model}', rich:capRich, align:'center', verticalAlign:'middle'}}
];

const chart = echarts.init(document.getElementById('c'), null, {renderer:'canvas'});
chart.setOption({
  animation:false, backgroundColor:'#fff',
  grid: grids, xAxis: xAxes, yAxis: yAxes, series, legend: legends, graphic
});
</script></body></html>
